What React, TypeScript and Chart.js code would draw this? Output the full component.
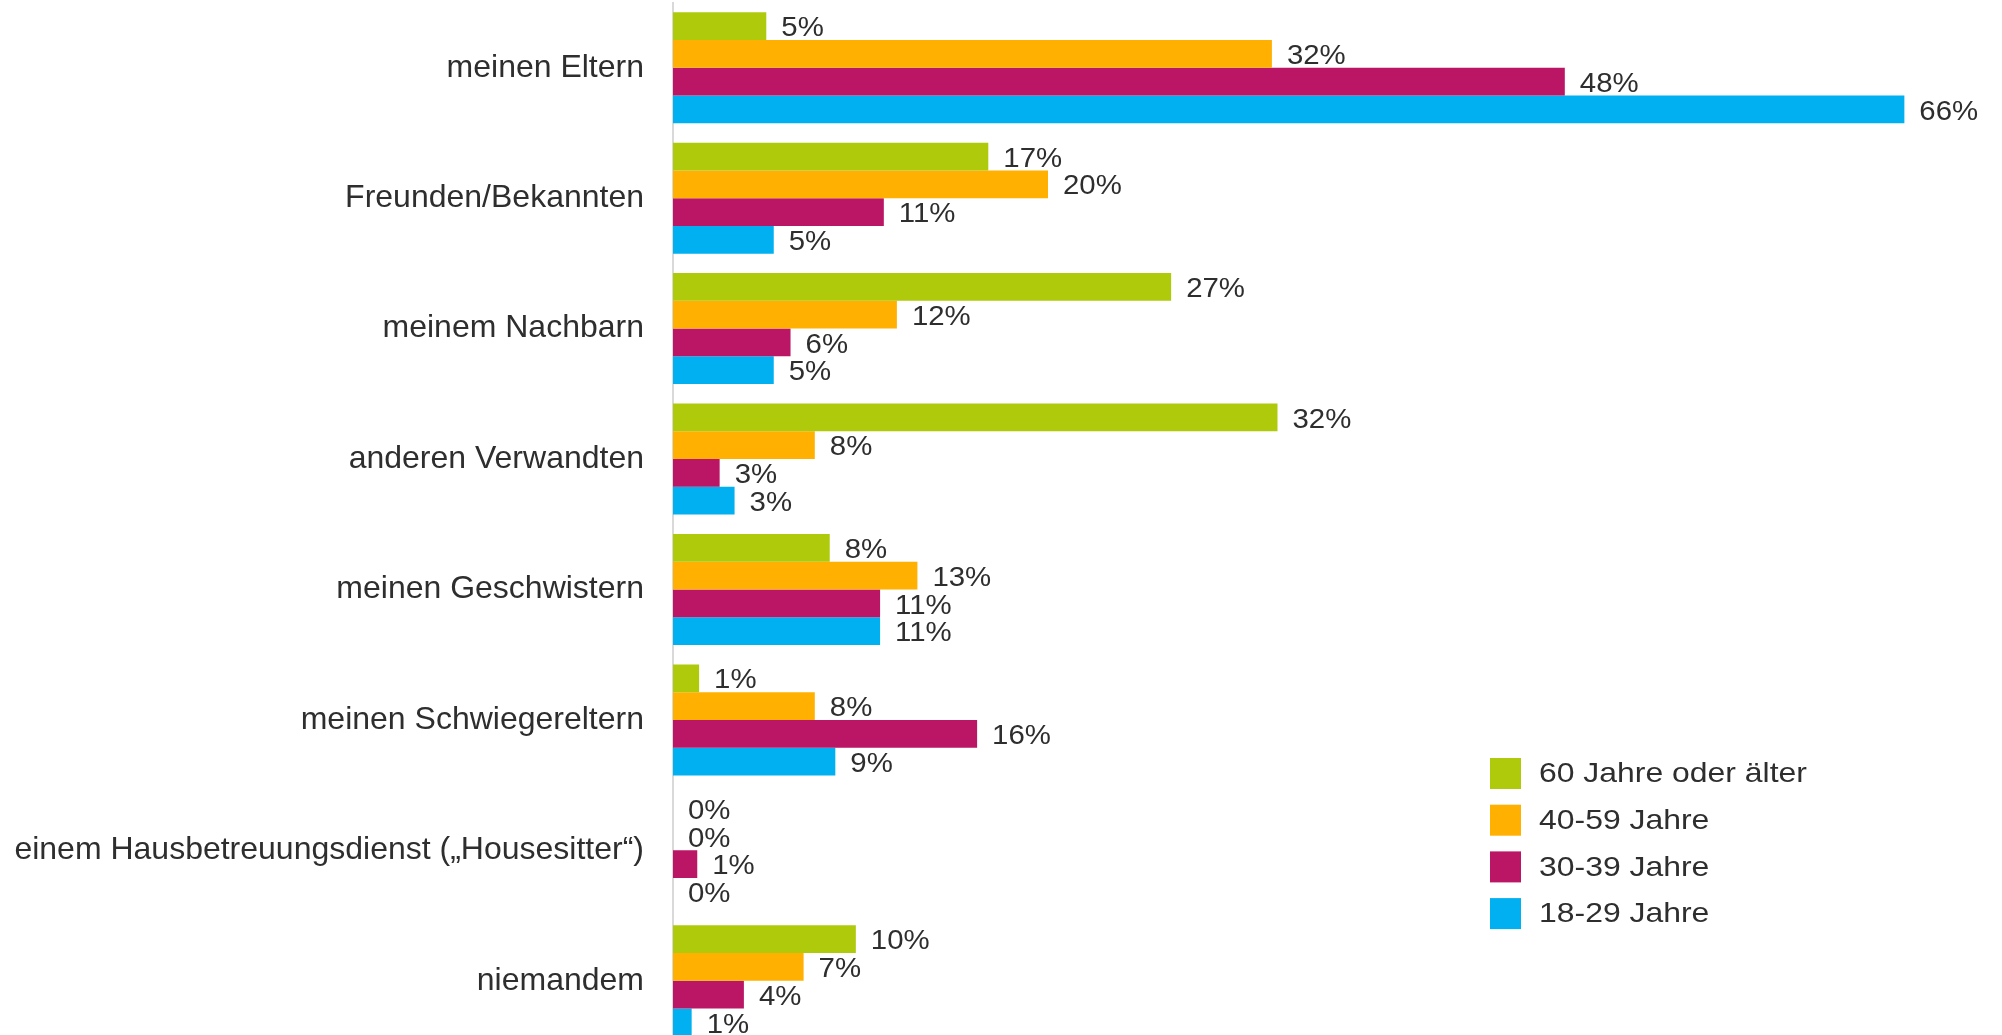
import React, { useEffect, useRef } from "react";
import { Chart, registerables } from "chart.js";

Chart.register(...registerables);

const categories = [
  "meinen Eltern",
  "Freunden/Bekannten",
  "meinem Nachbarn",
  "anderen Verwandten",
  "meinen Geschwistern",
  "meinen Schwiegereltern",
  "einem Hausbetreuungsdienst („Housesitter“)",
  "niemandem",
];

const seriesLabels = ["60 Jahre oder älter", "40-59 Jahre", "30-39 Jahre", "18-29 Jahre"];
const seriesColors = ["#AFCA0B", "#FFB000", "#BB1565", "#00B0F0"];

// values (labels show them rounded)
const values60plus = [5.0, 16.9, 26.7, 32.4, 8.4, 1.4, 0, 9.8];
const values40to59 = [32.1, 20.1, 12.0, 7.6, 13.1, 7.6, 0, 7.0];
const values30to39 = [47.8, 11.3, 6.3, 2.5, 11.1, 16.3, 1.3, 3.8];
const values18to29 = [66.0, 5.4, 5.4, 3.3, 11.1, 8.7, 0, 1.0];

const seriesValues = [values60plus, values40to59, values30to39, values18to29];

const FONT = "'Liberation Sans', Arial, sans-serif";
const TEXT_COLOR = "#2e2e2e";

function drawStretchedText(ctx: any, text: string, x: number, y: number, stretch: number) {
  ctx.save();
  ctx.translate(x, y);
  ctx.scale(stretch, 1);
  ctx.fillText(text, 0, 0);
  ctx.restore();
}

const dataLabelPlugin = {
  id: "dataLabels",
  afterDatasetsDraw(chart: any) {
    const ctx = chart.ctx;
    ctx.save();
    ctx.font = `28px ${FONT}`;
    ctx.fillStyle = TEXT_COLOR;
    ctx.textAlign = "left";
    ctx.textBaseline = "middle";
    chart.data.datasets.forEach((ds: any, i: number) => {
      const meta = chart.getDatasetMeta(i);
      meta.data.forEach((bar: any, j: number) => {
        const v = ds.data[j];
        drawStretchedText(ctx, `${Math.round(v)}%`, bar.x + 15, bar.y + 2.5, 1.05);
      });
    });
    ctx.restore();
  },
};

const legendPlugin = {
  id: "customLegend",
  afterDraw(chart: any) {
    const ctx = chart.ctx;
    ctx.save();
    ctx.font = `28px ${FONT}`;
    ctx.textAlign = "left";
    ctx.textBaseline = "middle";
    const x0 = 1490;
    const y0 = 758;
    const size = 31;
    const step = 46.7;
    chart.data.datasets.forEach((ds: any, i: number) => {
      const y = y0 + i * step;
      ctx.fillStyle = ds.backgroundColor;
      ctx.fillRect(x0, y, size, size);
      ctx.fillStyle = TEXT_COLOR;
      drawStretchedText(ctx, ds.label, x0 + 49, y + size / 2 + 1, 1.14);
    });
    ctx.restore();
  },
};

export default function App() {
  const canvasRef = useRef<HTMLCanvasElement | null>(null);

  useEffect(() => {
    if (!canvasRef.current) return;
    const chart = new Chart(canvasRef.current, {
      type: "bar",
      data: {
        labels: categories,
        datasets: seriesLabels.map((label, i) => ({
          label,
          data: seriesValues[i],
          backgroundColor: seriesColors[i],
          borderWidth: 0,
          categoryPercentage: 0.851,
          barPercentage: 1.0,
        })),
      },
      options: {
        indexAxis: "y",
        responsive: false,
        animation: false,
        devicePixelRatio: 1,
        layout: { padding: { top: 2.5, right: 23, bottom: 0, left: 0 } },
        plugins: {
          legend: { display: false },
          tooltip: { enabled: false },
        },
        scales: {
          x: {
            display: false,
            min: 0,
            max: 70,
          },
          y: {
            grid: { display: true, color: "transparent", drawTicks: false },
            border: { display: true, color: "#D9D9D9", width: 2 },
            ticks: {
              color: TEXT_COLOR,
              font: { family: FONT, size: 32 },
              padding: 29,
              autoSkip: false,
            },
            afterFit(scale: any) {
              scale.width = 673;
              scale.paddingTop = 0;
              scale.paddingBottom = 0;
            },
          },
        },
      },
      plugins: [dataLabelPlugin, legendPlugin],
    } as any);
    return () => chart.destroy();
  }, []);

  return (
    <div
      style={{
        position: "absolute",
        left: 0,
        top: 0,
        width: 2002,
        height: 1035,
        overflow: "hidden",
        background: "#ffffff",
      }}
    >
      <canvas ref={canvasRef} width={2002} height={1046} style={{ display: "block" }} />
    </div>
  );
}
